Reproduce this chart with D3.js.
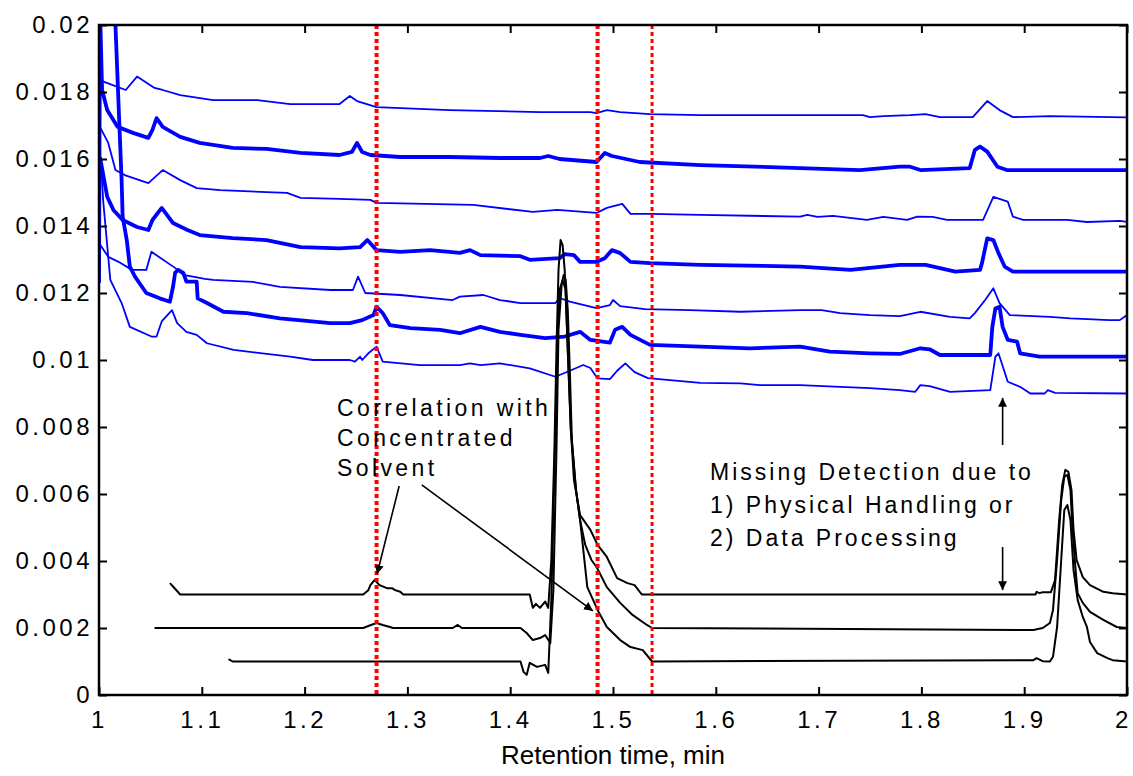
<!DOCTYPE html>
<html>
<head>
<meta charset="utf-8">
<script src="https://cdn.jsdelivr.net/npm/d3@7"></script>
<style>
	body { margin: 0; background: white; }
	text { font-family: 'Liberation Sans', Arial, sans-serif; fill: black; }
</style>
</head>
<body>
<svg id="container" width="1133" height="776"></svg>
<script>

// blue traces, [retention time (min), absorbance], top to bottom
var blue1 = [[1.000,0.01836],[1.026,0.01806],[1.037,0.01846],[1.054,0.01812],[1.062,0.01806],[1.079,0.01791],[1.095,0.01783],[1.111,0.01776],[1.154,0.01776],[1.186,0.01764],[1.234,0.01764],[1.244,0.01788],[1.251,0.01773],[1.270,0.01755],[1.341,0.01746],[1.429,0.01740],[1.478,0.01740],[1.484,0.01737],[1.494,0.01746],[1.507,0.01740],[1.536,0.01734],[1.585,0.01731],[1.743,0.01731],[1.750,0.01725],[1.763,0.01728],[1.789,0.01731],[1.804,0.01734],[1.818,0.01725],[1.850,0.01725],[1.864,0.01773],[1.876,0.01746],[1.889,0.01725],[1.925,0.01728],[2.000,0.01724]];
var blue2 = [[1.000,0.01230],[1.001,0.02050],[1.003,0.01806],[1.008,0.01746],[1.018,0.01696],[1.033,0.01678],[1.048,0.01663],[1.052,0.01687],[1.056,0.01722],[1.062,0.01696],[1.079,0.01666],[1.098,0.01648],[1.130,0.01633],[1.163,0.01630],[1.196,0.01618],[1.234,0.01612],[1.246,0.01621],[1.251,0.01648],[1.256,0.01621],[1.264,0.01612],[1.293,0.01606],[1.341,0.01606],[1.390,0.01603],[1.429,0.01603],[1.437,0.01609],[1.448,0.01600],[1.484,0.01591],[1.492,0.01618],[1.499,0.01609],[1.526,0.01591],[1.585,0.01582],[1.682,0.01573],[1.740,0.01567],[1.779,0.01577],[1.789,0.01577],[1.799,0.01567],[1.847,0.01573],[1.852,0.01627],[1.857,0.01637],[1.864,0.01622],[1.874,0.01577],[1.883,0.01567],[2.000,0.01567]];
var blue3 = [[1.000,0.01701],[1.009,0.01648],[1.016,0.01567],[1.025,0.01552],[1.048,0.01528],[1.062,0.01567],[1.079,0.01537],[1.095,0.01513],[1.118,0.01507],[1.163,0.01501],[1.183,0.01499],[1.196,0.01484],[1.234,0.01481],[1.264,0.01478],[1.270,0.01469],[1.364,0.01463],[1.422,0.01442],[1.446,0.01448],[1.471,0.01442],[1.484,0.01439],[1.494,0.01454],[1.509,0.01466],[1.517,0.01436],[1.536,0.01436],[1.585,0.01433],[1.682,0.01428],[1.689,0.01433],[1.699,0.01427],[1.714,0.01430],[1.747,0.01418],[1.763,0.01427],[1.786,0.01418],[1.796,0.01428],[1.811,0.01427],[1.825,0.01418],[1.860,0.01418],[1.870,0.01487],[1.884,0.01473],[1.889,0.01428],[1.899,0.01418],[1.942,0.01418],[1.961,0.01412],[1.993,0.01415],[2.000,0.01412]];
var blue4 = [[1.001,0.01606],[1.008,0.01487],[1.014,0.01448],[1.023,0.01418],[1.037,0.01397],[1.048,0.01388],[1.052,0.01418],[1.061,0.01454],[1.072,0.01409],[1.086,0.01388],[1.098,0.01373],[1.130,0.01364],[1.163,0.01358],[1.196,0.01337],[1.234,0.01333],[1.254,0.01337],[1.261,0.01358],[1.270,0.01328],[1.293,0.01323],[1.322,0.01328],[1.351,0.01320],[1.361,0.01328],[1.371,0.01313],[1.410,0.01310],[1.419,0.01299],[1.448,0.01304],[1.453,0.01316],[1.462,0.01313],[1.468,0.01293],[1.484,0.01293],[1.492,0.01304],[1.499,0.01328],[1.507,0.01319],[1.517,0.01293],[1.536,0.01289],[1.585,0.01284],[1.682,0.01279],[1.731,0.01269],[1.779,0.01284],[1.804,0.01284],[1.833,0.01264],[1.857,0.01269],[1.859,0.01290],[1.864,0.01363],[1.870,0.01358],[1.875,0.01319],[1.881,0.01279],[1.889,0.01264],[2.000,0.01264]];
var blue5 = [[1.000,0.01349],[1.009,0.01308],[1.019,0.01293],[1.032,0.01269],[1.046,0.01269],[1.051,0.01323],[1.074,0.01275],[1.082,0.01254],[1.103,0.01242],[1.111,0.01239],[1.150,0.01233],[1.176,0.01218],[1.225,0.01209],[1.247,0.01209],[1.252,0.01249],[1.259,0.01200],[1.293,0.01194],[1.344,0.01179],[1.351,0.01189],[1.374,0.01194],[1.390,0.01179],[1.410,0.01170],[1.444,0.01170],[1.448,0.01185],[1.458,0.01174],[1.484,0.01155],[1.497,0.01164],[1.500,0.01179],[1.507,0.01161],[1.531,0.01152],[1.575,0.01149],[1.624,0.01144],[1.682,0.01149],[1.703,0.01149],[1.721,0.01140],[1.750,0.01134],[1.779,0.01131],[1.799,0.01144],[1.828,0.01129],[1.847,0.01124],[1.852,0.01140],[1.862,0.01179],[1.870,0.01214],[1.876,0.01170],[1.886,0.01134],[1.925,0.01129],[1.945,0.01124],[1.983,0.01119],[1.993,0.01119],[2.000,0.01134]];
var blue6 = [[1.0145,0.02300],[1.016,0.02000],[1.020,0.01687],[1.022,0.01537],[1.023,0.01428],[1.027,0.01358],[1.030,0.01279],[1.035,0.01249],[1.046,0.01200],[1.059,0.01184],[1.069,0.01174],[1.072,0.01218],[1.074,0.01260],[1.077,0.01269],[1.082,0.01260],[1.085,0.01234],[1.095,0.01234],[1.096,0.01184],[1.105,0.01170],[1.121,0.01144],[1.144,0.01140],[1.176,0.01124],[1.225,0.01110],[1.244,0.01110],[1.256,0.01119],[1.267,0.01134],[1.270,0.01159],[1.276,0.01140],[1.283,0.01104],[1.303,0.01095],[1.332,0.01090],[1.351,0.01080],[1.371,0.01099],[1.390,0.01084],[1.410,0.01075],[1.434,0.01065],[1.453,0.01070],[1.468,0.01084],[1.478,0.01060],[1.497,0.01052],[1.502,0.01090],[1.509,0.01099],[1.517,0.01075],[1.536,0.01045],[1.585,0.01040],[1.633,0.01035],[1.682,0.01040],[1.711,0.01025],[1.750,0.01020],[1.779,0.01018],[1.799,0.01035],[1.808,0.01032],[1.818,0.01015],[1.867,0.01015],[1.869,0.01099],[1.872,0.01154],[1.876,0.01159],[1.879,0.01099],[1.884,0.01060],[1.893,0.01055],[1.896,0.01020],[1.915,0.01010],[2.000,0.01010]];
var blue7 = [[1.002,0.01588],[1.004,0.01478],[1.011,0.01239],[1.022,0.01170],[1.030,0.01099],[1.051,0.01070],[1.056,0.01070],[1.061,0.01115],[1.071,0.01149],[1.076,0.01110],[1.085,0.01084],[1.095,0.01075],[1.105,0.01050],[1.131,0.01030],[1.186,0.01010],[1.208,0.01000],[1.244,0.01000],[1.249,0.00995],[1.254,0.01010],[1.256,0.01000],[1.262,0.01020],[1.270,0.01040],[1.276,0.00995],[1.312,0.00985],[1.351,0.00985],[1.361,0.00990],[1.371,0.00985],[1.390,0.00990],[1.419,0.00975],[1.444,0.00950],[1.458,0.00968],[1.471,0.00985],[1.478,0.00976],[1.485,0.00945],[1.497,0.00943],[1.504,0.00968],[1.512,0.00990],[1.521,0.00964],[1.534,0.00946],[1.585,0.00932],[1.624,0.00930],[1.643,0.00925],[1.682,0.00925],[1.721,0.00920],[1.750,0.00916],[1.779,0.00910],[1.794,0.00905],[1.799,0.00925],[1.808,0.00922],[1.828,0.00905],[1.867,0.00910],[1.872,0.01010],[1.875,0.01020],[1.884,0.00935],[1.896,0.00920],[1.906,0.00900],[1.920,0.00900],[1.923,0.00910],[1.930,0.00902],[2.000,0.00900]];

// black traces (offset by 0.003, 0.002, 0.001)
var black1 = [[1.069,0.00334],[1.072,0.00324],[1.079,0.00300],[1.257,0.00300],[1.262,0.00313],[1.264,0.00328],[1.268,0.00343],[1.273,0.00328],[1.280,0.00319],[1.285,0.00319],[1.288,0.00313],[1.293,0.00308],[1.296,0.00300],[1.419,0.00300],[1.422,0.00260],[1.425,0.00272],[1.429,0.00260],[1.434,0.00279],[1.437,0.00260],[1.440,0.00403],[1.443,0.00731],[1.445,0.01030],[1.447,0.01269],[1.449,0.01358],[1.451,0.01343],[1.453,0.01269],[1.456,0.01030],[1.459,0.00791],[1.462,0.00642],[1.468,0.00537],[1.478,0.00493],[1.485,0.00448],[1.494,0.00412],[1.504,0.00349],[1.514,0.00334],[1.521,0.00328],[1.528,0.00300],[1.911,0.00300],[1.912,0.00308],[1.915,0.00304],[1.918,0.00307],[1.926,0.00307],[1.930,0.00343],[1.934,0.00522],[1.937,0.00627],[1.940,0.00672],[1.943,0.00666],[1.946,0.00612],[1.948,0.00493],[1.951,0.00403],[1.957,0.00352],[1.964,0.00328],[1.977,0.00308],[1.986,0.00304],[2.000,0.00300]];
var black2 = [[1.054,0.00200],[1.257,0.00200],[1.262,0.00206],[1.270,0.00215],[1.276,0.00209],[1.283,0.00203],[1.286,0.00200],[1.344,0.00200],[1.349,0.00209],[1.353,0.00200],[1.410,0.00200],[1.416,0.00185],[1.422,0.00164],[1.429,0.00170],[1.434,0.00179],[1.439,0.00155],[1.442,0.00313],[1.445,0.00731],[1.447,0.01090],[1.450,0.01224],[1.452,0.01254],[1.454,0.01239],[1.456,0.01149],[1.458,0.00970],[1.460,0.00761],[1.464,0.00612],[1.468,0.00522],[1.473,0.00448],[1.479,0.00403],[1.484,0.00382],[1.494,0.00322],[1.507,0.00275],[1.519,0.00239],[1.533,0.00209],[1.538,0.00200],[1.909,0.00194],[1.918,0.00200],[1.925,0.00215],[1.928,0.00254],[1.932,0.00403],[1.936,0.00582],[1.939,0.00651],[1.942,0.00657],[1.945,0.00612],[1.947,0.00493],[1.950,0.00373],[1.952,0.00304],[1.957,0.00275],[1.964,0.00248],[1.977,0.00224],[1.990,0.00203],[2.000,0.00200]];
var black3 = [[1.126,0.00107],[1.130,0.00100],[1.410,0.00100],[1.413,0.00069],[1.416,0.00060],[1.419,0.00096],[1.426,0.00084],[1.434,0.00090],[1.437,0.00066],[1.440,0.00284],[1.443,0.00672],[1.446,0.01060],[1.448,0.01209],[1.451,0.01239],[1.454,0.01209],[1.456,0.01030],[1.459,0.00791],[1.464,0.00612],[1.468,0.00522],[1.475,0.00322],[1.485,0.00254],[1.494,0.00203],[1.507,0.00164],[1.517,0.00143],[1.529,0.00134],[1.538,0.00100],[1.909,0.00104],[1.912,0.00110],[1.918,0.00101],[1.925,0.00100],[1.928,0.00114],[1.932,0.00203],[1.936,0.00403],[1.939,0.00552],[1.942,0.00567],[1.945,0.00522],[1.948,0.00373],[1.952,0.00284],[1.957,0.00233],[1.961,0.00203],[1.964,0.00158],[1.971,0.00125],[1.981,0.00110],[1.986,0.00104],[2.000,0.00100]];

// red markers, ticks and notes
var markers = [1.27, 1.485, 1.538];
var xTicks = [1, 1.1, 1.2, 1.3, 1.4, 1.5, 1.6, 1.7, 1.8, 1.9, 2];
var yTicks = [0, 0.002, 0.004, 0.006, 0.008, 0.01, 0.012, 0.014, 0.016, 0.018, 0.02];
var noteLeft = ['Correlation with', 'Concentrated', 'Solvent'];
var noteRight = ['Missing Detection due to', '1) Physical Handling or', '2) Data Processing'];
var arrows = [
	[1.292, 0.00624, 1.2705, 0.00361],
	[1.314, 0.00627, 1.4805, 0.00251],
	[1.879, 0.00746, 1.879, 0.00887],
	[1.879, 0.00442, 1.879, 0.00313]
];

const W = 1133, H = 776;
const L = 99, R = 1127, T = 25, B = 695;

var svg = d3.select('#container');

var x = d3.scaleLinear().domain([1, 2]).range([L, R]);
var y = d3.scaleLinear().domain([0, 0.02]).range([B, T]);

svg.append('defs').append('clipPath').attr('id', 'plot')
	.append('rect')
	.attr('x', L).attr('y', T)
	.attr('width', R - L).attr('height', B - T);

svg.select('defs').append('marker')
	.attr('id', 'head')
	.attr('viewBox', '0 0 10 10')
	.attr('refX', 10).attr('refY', 5)
	.attr('markerWidth', 9).attr('markerHeight', 9)
	.attr('markerUnits', 'userSpaceOnUse')
	.attr('orient', 'auto')
	.append('path')
	.attr('d', 'M0,0 L10,5 L0,10 z')
	.style('fill', 'black');

var line = d3.line()
	.x(function(d) { return x(d[0]); })
	.y(function(d) { return y(d[1]); });

var plot = svg.append('g').attr('clip-path', 'url(#plot)');

// traces
var traces = [
	{ pts: blue1, c: '#0000ff', w: 1.8 },
	{ pts: blue2, c: '#0000ff', w: 3.8 },
	{ pts: blue3, c: '#0000ff', w: 1.8 },
	{ pts: blue4, c: '#0000ff', w: 3.8 },
	{ pts: blue5, c: '#0000ff', w: 1.8 },
	{ pts: blue6, c: '#0000ff', w: 3.8 },
	{ pts: blue7, c: '#0000ff', w: 1.8 },
	{ pts: black1, c: 'black', w: 2 },
	{ pts: black2, c: 'black', w: 2 },
	{ pts: black3, c: 'black', w: 2 }
];
plot.selectAll('path.trace')
	.data(traces)
	.enter()
	.append('path')
	.attr('class', 'trace')
	.attr('d', function(d) { return line(d.pts); })
	.style('fill', 'none')
	.style('stroke', function(d) { return d.c; })
	.style('stroke-width', function(d) { return d.w; })
	.style('stroke-linejoin', 'round');

// red dotted lines
plot.selectAll('line.marker')
	.data(markers)
	.enter()
	.append('line')
	.attr('x1', function(d) { return x(d); })
	.attr('x2', function(d) { return x(d); })
	.attr('y1', T)
	.attr('y2', B)
	.style('stroke', 'red')
	.style('stroke-width', function(d,i) { return i == 2 ? 3 : 4; })
	.style('stroke-dasharray', '4,3');

// axes, ticks pointing inwards
function axisStyle(g) {
	g.select('.domain').remove();
	g.selectAll('.tick line').style('stroke', 'black').style('stroke-width', 2);
	g.selectAll('.tick text')
		.style('font-size', '24px')
		.style('letter-spacing', '3.5px')
		.style('fill', 'black');
}
var fmtX = function(d) { return String(+d.toFixed(1)); };
var fmtY = function(d) { return String(+d.toFixed(3)); };

var xAxis = svg.append('g').attr('transform', 'translate(0,' + B + ')')
	.call(d3.axisBottom(x).tickValues(xTicks).tickFormat(fmtX).tickSizeInner(-8).tickPadding(16))
	.call(axisStyle);
// keep the last label inside the page
xAxis.selectAll('.tick text').filter(function(d) { return d == 2; }).attr('dx', -4);

svg.append('g').attr('transform', 'translate(0,' + T + ')')
	.call(d3.axisTop(x).tickValues(xTicks).tickFormat('').tickSizeInner(-8))
	.call(axisStyle);
svg.append('g').attr('transform', 'translate(' + L + ',0)')
	.call(d3.axisLeft(y).tickValues(yTicks).tickFormat(fmtY).tickSizeInner(-8).tickPadding(6))
	.call(axisStyle);
svg.append('g').attr('transform', 'translate(' + R + ',0)')
	.call(d3.axisRight(y).tickValues(yTicks).tickFormat('').tickSizeInner(-8))
	.call(axisStyle);

svg.append('rect')
	.attr('x', L).attr('y', T)
	.attr('width', R - L).attr('height', B - T)
	.style('fill', 'none')
	.style('stroke', 'black')
	.style('stroke-width', 2.5);

svg.append('text')
	.attr('x', (L + R) / 2)
	.attr('y', 764)
	.attr('text-anchor', 'middle')
	.style('font-size', '26px')
	.text('Retention time, min');

// annotations
svg.selectAll('line.arrow')
	.data(arrows)
	.enter()
	.append('line')
	.attr('x1', function(d) { return x(d[0]); })
	.attr('y1', function(d) { return y(d[1]); })
	.attr('x2', function(d) { return x(d[2]); })
	.attr('y2', function(d) { return y(d[3]); })
	.style('stroke', 'black')
	.style('stroke-width', 1.6)
	.attr('marker-end', 'url(#head)');

svg.selectAll('text.noteL')
	.data(noteLeft)
	.enter()
	.append('text')
	.attr('x', x(1.2315))
	.attr('y', function(d,i) { return y(0.00833) + i*30; })
	.style('font-size', '23px')
	.style('letter-spacing', '3.4px')
	.text(function(d) { return d; });

svg.selectAll('text.noteR')
	.data(noteRight)
	.enter()
	.append('text')
	.attr('x', x(1.5944))
	.attr('y', function(d,i) { return y(0.00642) + i*33; })
	.style('font-size', '23px')
	.style('letter-spacing', '3px')
	.text(function(d) { return d; });

</script>
</body>
</html>
